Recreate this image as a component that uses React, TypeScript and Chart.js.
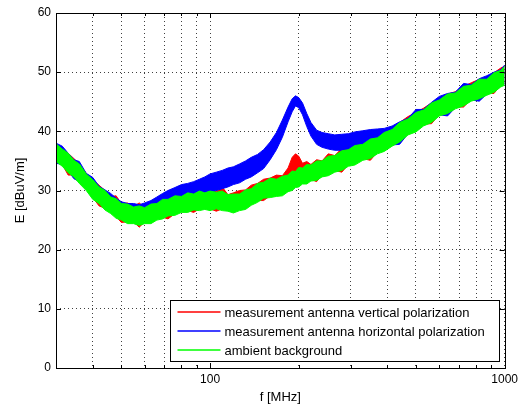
import React, { useEffect, useRef } from "react";
import { Chart, registerables } from "chart.js";

Chart.register(...registerables);

// ---------- data ----------
const FREQ_MHZ = [30, 31.5, 33, 34.5, 36, 38, 40, 42, 44, 46, 48, 50, 52.5, 55, 57.5, 60, 63, 66, 69, 72, 76, 80, 84, 88, 92, 96, 100, 105, 110, 115, 120, 126, 132, 138, 145, 152, 160, 168, 176, 184, 190, 195, 200, 206, 213, 220, 230, 240, 252, 265, 280, 295, 310, 330, 350, 370, 390, 415, 440, 470, 500, 530, 565, 600, 640, 680, 725, 770, 820, 870, 920, 970, 1000];

// measurement antenna vertical polarization (red) – envelope of the noisy trace
const VERT_UPPER = [37.9, 37.1, 36.3, 35.4, 34.5, 32.9, 31.8, 30.9, 30.0, 29.0, 29.1, 27.8, 27.9, 27.3, 27.9, 27.1, 27.8, 28.3, 28.5, 28.7, 29.1, 29.6, 29.6, 29.5, 30.3, 29.6, 30.1, 29.8, 30.6, 29.3, 29.6, 30.0, 30.1, 30.9, 31.2, 31.9, 32.1, 32.6, 32.5, 33.8, 35.6, 36.2, 35.8, 34.6, 34.9, 34.4, 35.2, 35.0, 36.2, 35.9, 37.1, 36.9, 37.9, 37.8, 39.0, 38.9, 40.2, 40.3, 41.5, 42.5, 43.2, 43.9, 44.8, 45.6, 46.3, 46.7, 47.6, 48.2, 48.8, 48.9, 49.9, 50.7, 51.0];
const VERT_LOWER = [35.2, 34.4, 32.6, 32.6, 31.5, 30.3, 28.8, 27.4, 27.0, 26.4, 25.6, 24.6, 24.7, 24.7, 23.8, 24.7, 24.7, 25.3, 25.5, 25.2, 26.1, 26.6, 26.6, 26.3, 26.9, 27.1, 26.9, 26.5, 26.9, 26.8, 26.5, 26.9, 27.1, 27.8, 28.3, 28.3, 29.1, 29.3, 29.4, 30.1, 30.3, 30.8, 30.9, 31.4, 31.4, 31.9, 31.5, 32.6, 32.8, 33.4, 33.1, 34.4, 34.6, 35.4, 35.1, 36.5, 36.9, 37.8, 38.0, 39.7, 40.2, 41.2, 41.3, 42.9, 43.3, 44.1, 44.1, 45.4, 45.8, 46.4, 46.4, 47.8, 48.1];

// measurement antenna horizontal polarization (blue)
const HORIZ_UPPER = [38.0, 37.5, 36.3, 35.2, 34.9, 32.9, 32.2, 30.7, 30.1, 29.5, 28.7, 28.1, 27.8, 27.8, 27.6, 27.9, 28.3, 28.9, 29.5, 30.0, 30.5, 31.0, 31.2, 31.5, 31.9, 32.3, 32.8, 33.1, 33.4, 33.8, 34.0, 34.5, 35.0, 35.6, 36.1, 36.9, 38.2, 39.8, 41.9, 44.1, 45.5, 46.0, 45.7, 44.8, 43.0, 41.5, 40.2, 39.8, 39.6, 39.4, 39.5, 39.6, 39.9, 40.1, 40.3, 40.4, 40.5, 40.9, 41.6, 42.2, 43.7, 43.7, 44.9, 45.9, 46.4, 46.6, 48.1, 47.9, 48.9, 49.4, 50.0, 50.4, 51.2];
const HORIZ_LOWER = [34.6, 34.4, 33.3, 32.0, 31.5, 30.3, 28.8, 28.1, 27.0, 26.4, 25.6, 25.3, 24.7, 24.7, 24.4, 24.7, 24.9, 25.6, 26.5, 27.0, 27.6, 28.0, 28.4, 28.6, 28.9, 29.2, 29.6, 30.0, 30.3, 30.6, 31.0, 31.3, 31.9, 32.3, 33.0, 33.7, 35.2, 36.9, 39.0, 41.6, 43.3, 44.3, 44.0, 42.8, 40.8, 39.2, 37.8, 37.3, 37.0, 36.8, 36.8, 37.0, 37.2, 37.5, 37.6, 37.9, 37.6, 37.7, 37.8, 39.6, 40.1, 41.1, 41.7, 42.8, 42.6, 44.0, 44.5, 45.3, 45.1, 46.3, 46.8, 47.7, 48.0];

// ambient background (green)
const AMBIENT_UPPER = [37.9, 37.0, 36.3, 35.1, 34.5, 32.8, 31.8, 30.6, 30.0, 28.9, 28.6, 27.8, 27.7, 27.2, 27.4, 27.1, 27.7, 27.8, 28.5, 28.5, 29.1, 29.0, 29.6, 29.4, 29.9, 29.6, 29.9, 29.7, 29.9, 29.3, 29.4, 29.4, 30.1, 30.3, 31.2, 31.4, 32.1, 31.9, 32.4, 32.6, 33.3, 33.2, 33.9, 33.8, 34.4, 34.3, 35.0, 35.0, 35.8, 35.9, 36.7, 36.9, 37.6, 37.8, 38.7, 38.9, 39.8, 40.3, 41.5, 42.1, 43.2, 43.6, 44.8, 45.3, 46.3, 46.5, 47.6, 47.8, 48.8, 48.8, 49.9, 50.3, 51.0];
const AMBIENT_LOWER = [34.9, 34.1, 33.0, 32.3, 31.2, 30.0, 28.5, 27.8, 26.7, 26.1, 25.3, 25.0, 24.4, 24.4, 24.1, 24.4, 24.4, 25.0, 25.2, 25.7, 25.8, 26.3, 26.3, 26.7, 26.6, 26.8, 26.6, 26.9, 26.6, 26.5, 26.2, 26.6, 26.8, 27.5, 28.0, 28.7, 28.8, 29.0, 29.1, 29.8, 30.0, 30.5, 30.6, 31.1, 31.1, 31.6, 31.7, 32.3, 32.5, 33.1, 33.4, 34.1, 34.3, 35.1, 35.4, 36.2, 36.6, 37.5, 38.2, 39.4, 39.9, 40.9, 41.5, 42.6, 43.0, 43.8, 44.3, 45.1, 45.5, 46.1, 46.6, 47.5, 47.8];

const SERIES_LABELS = [
  "measurement antenna vertical polarization",
  "measurement antenna horizontal polarization",
  "ambient background",
];
const SERIES_COLORS = ["#ff0000", "#0000ff", "#00ff00"];

const X_MIN = 30;
const X_MAX = 1000;
const X_TICKS = [40, 50, 60, 70, 80, 90, 100, 200, 300, 400, 500, 600, 700, 800, 900, 1000];
const X_LABELED_TICKS = [100, 1000];
const Y_TICKS = [0, 10, 20, 30, 40, 50, 60];
const X_TITLE = "f [MHz]";
const Y_TITLE = "E [dBuV/m]";

const FONT_FAMILY = "'Liberation Sans', Arial, Helvetica, sans-serif";

function toPoints(values: number[]) {
  return FREQ_MHZ.map((f, i) => ({ x: f, y: values[i] }));
}

function band(label: string, lower: number[], upper: number[], color: string, order: number) {
  return [
    {
      label: label + " (lower)",
      data: toPoints(lower),
      borderColor: color,
      borderWidth: 1,
      backgroundColor: color,
      pointRadius: 0,
      fill: false,
      order,
    },
    {
      label,
      data: toPoints(upper),
      borderColor: color,
      borderWidth: 1,
      backgroundColor: color,
      pointRadius: 0,
      fill: "-1",
      order,
    },
  ];
}

const matlabPlugin = {
  id: "matlabFrame",
  afterDraw(chart: any) {
    const { ctx, chartArea: a, scales } = chart;
    const xs = scales.x;
    const ys = scales.y;
    ctx.save();
    ctx.strokeStyle = "#000";
    ctx.lineWidth = 1;
    ctx.setLineDash([]);
    ctx.beginPath();
    for (const v of X_TICKS) {
      const px = Math.round(xs.getPixelForValue(v)) + 0.5;
      const len = X_LABELED_TICKS.includes(v) ? 5 : 3;
      ctx.moveTo(px, a.bottom);
      ctx.lineTo(px, a.bottom - len);
      ctx.moveTo(px, a.top);
      ctx.lineTo(px, a.top + len);
    }
    for (const v of Y_TICKS) {
      const py = Math.round(ys.getPixelForValue(v)) + 0.5;
      ctx.moveTo(a.left, py);
      ctx.lineTo(a.left + 5, py);
      ctx.moveTo(a.right, py);
      ctx.lineTo(a.right - 5, py);
    }
    ctx.stroke();
    ctx.strokeRect(
      Math.round(a.left) + 0.5,
      Math.round(a.top) + 0.5,
      Math.round(a.right - a.left),
      Math.round(a.bottom - a.top)
    );

    // legend box (inside, bottom-right)
    const boxW = 329;
    const boxH = 61;
    const bx = Math.round(a.right) - 6 - boxW + 0.5;
    const by = Math.round(a.bottom) - 7 - boxH + 0.5;
    ctx.fillStyle = "#fff";
    ctx.fillRect(bx, by, boxW, boxH);
    ctx.strokeStyle = "#000";
    ctx.lineWidth = 1;
    ctx.strokeRect(bx, by, boxW, boxH);
    ctx.font = `13px ${FONT_FAMILY}`;
    ctx.textBaseline = "middle";
    ctx.textAlign = "left";
    const rows = [12, 31, 50];
    SERIES_LABELS.forEach((lbl, i) => {
      const ry = Math.round(by + rows[i]);
      ctx.strokeStyle = SERIES_COLORS[i];
      ctx.lineWidth = 1.5;
      ctx.beginPath();
      ctx.moveTo(bx + 7, ry - 1);
      ctx.lineTo(bx + 50, ry - 1);
      ctx.stroke();
      ctx.fillStyle = "#000";
      ctx.fillText(lbl, bx + 54, ry + 0.5);
    });
    ctx.restore();
  },
};

export default function App() {
  const canvasRef = useRef<HTMLCanvasElement | null>(null);

  useEffect(() => {
    document.body.style.margin = "0";
    const canvas = canvasRef.current;
    if (!canvas) return;
    const gridColor = "rgba(0,0,0,0.75)";
    const tickFont = { family: FONT_FAMILY, size: 12 };
    const titleFont = { family: FONT_FAMILY, size: 13 };

    const chart = new Chart(canvas, {
      type: "line",
      data: {
        datasets: [
          ...band(SERIES_LABELS[2], AMBIENT_LOWER, AMBIENT_UPPER, SERIES_COLORS[2], 0),
          ...band(SERIES_LABELS[1], HORIZ_LOWER, HORIZ_UPPER, SERIES_COLORS[1], 1),
          ...band(SERIES_LABELS[0], VERT_LOWER, VERT_UPPER, SERIES_COLORS[0], 2),
        ] as any,
      },
      options: {
        animation: false,
        responsive: false,
        devicePixelRatio: 1,
        layout: { padding: { left: 0, right: 16, top: 13, bottom: 0 } },
        elements: { line: { tension: 0 }, point: { radius: 0 } },
        plugins: {
          legend: { display: false },
          tooltip: { enabled: false },
          filler: { propagate: false },
        },
        scales: {
          x: {
            type: "logarithmic",
            min: X_MIN,
            max: X_MAX,
            afterBuildTicks: (s: any) => {
              s.ticks = X_TICKS.map((v) => ({ value: v }));
            },
            afterFit: (s: any) => {
              s.height = 38;
            },
            ticks: {
              autoSkip: false,
              maxRotation: 0,
              minRotation: 0,
              padding: 4,
              color: "#000",
              font: tickFont,
              callback: (v: any) => (X_LABELED_TICKS.includes(Number(v)) ? String(v) : ""),
            },
            grid: { color: gridColor, drawTicks: false, lineWidth: 1 },
            border: { display: false, dash: [1, 3] },
            title: {
              display: true,
              text: X_TITLE,
              color: "#000",
              font: titleFont,
              padding: { top: 0, bottom: 1 },
            },
          },
          y: {
            type: "linear",
            min: 0,
            max: 60,
            afterBuildTicks: (s: any) => {
              s.ticks = Y_TICKS.map((v) => ({ value: v }));
            },
            afterFit: (s: any) => {
              s.width = 56;
            },
            ticks: {
              padding: 5,
              color: "#000",
              font: tickFont,
              callback: (v: any) => String(v),
            },
            grid: { color: gridColor, drawTicks: false, lineWidth: 1 },
            border: { display: false, dash: [1, 3] },
            title: {
              display: true,
              text: Y_TITLE,
              color: "#000",
              font: titleFont,
              padding: { top: 13, bottom: 0 },
            },
          },
        },
      },
      plugins: [matlabPlugin],
    });
    return () => chart.destroy();
  }, []);

  return (
    <div style={{ position: "absolute", left: 0, top: 0, width: 522, height: 406, background: "#fff" }}>
      <canvas ref={canvasRef} width={522} height={406} style={{ display: "block" }} />
    </div>
  );
}
